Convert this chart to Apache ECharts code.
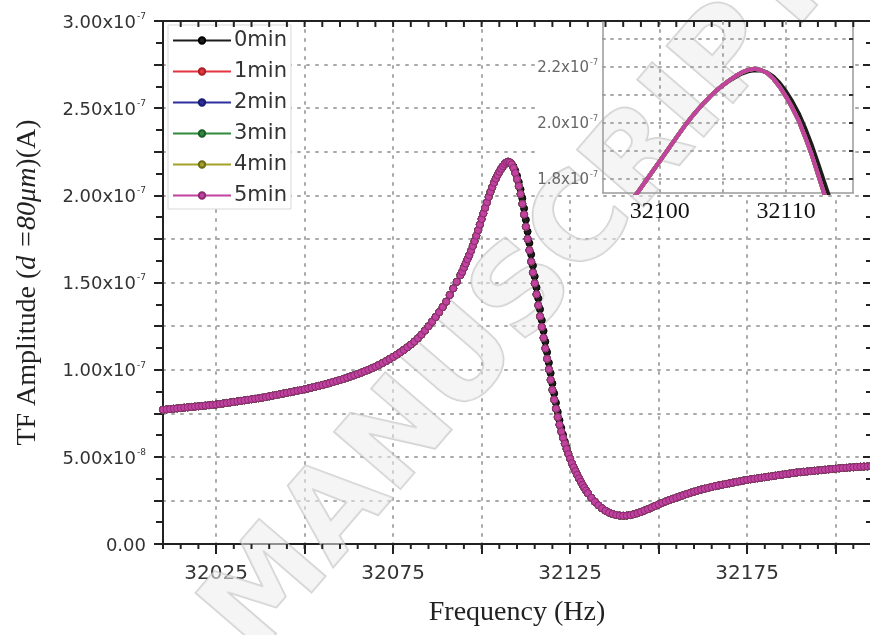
<!DOCTYPE html>
<html>
<head>
<meta charset="utf-8">
<title>TF amplitude vs frequency</title>
<script src="https://cdn.jsdelivr.net/npm/echarts@6/dist/echarts.min.js"></script>
<style>
  html, body { margin: 0; padding: 0; background: #fff; }
  #chart { width: 870px; height: 635px; }
</style>
</head>
<body>
<div id="chart"></div>
<script>
// ---- Frequency sweep data (amplitudes in units of 1e-7 A) ----
// Lower wing: 1 Hz steps from 32010 Hz
const lowSideStartHz = 32010;
const lowSideStepHz = 1;
const ampLowSide = [
  0.770, 0.772, 0.774, 0.776, 0.778, 0.780, 0.782, 0.784, 0.786, 0.788,
  0.790, 0.792, 0.794, 0.796, 0.798, 0.800, 0.803, 0.806, 0.809, 0.812,
  0.815, 0.818, 0.821, 0.824, 0.827, 0.830, 0.833, 0.836, 0.839, 0.843,
  0.847, 0.851, 0.855, 0.859, 0.863, 0.867, 0.871, 0.875, 0.879, 0.883,
  0.887, 0.892, 0.897, 0.902, 0.907, 0.912, 0.917, 0.923, 0.929, 0.935,
  0.941, 0.947, 0.954, 0.961, 0.968, 0.975, 0.983, 0.991, 0.999, 1.008,
  1.017, 1.027, 1.038, 1.049, 1.061, 1.073, 1.086, 1.099, 1.113, 1.128,
  1.144, 1.161, 1.180, 1.201, 1.224, 1.249, 1.275, 1.302, 1.330, 1.359,
  1.390, 1.428, 1.466, 1.504, 1.542
];

// Resonance: 0.5 Hz steps from 32094.5 Hz
const resonanceStartHz = 32094.5;
const resonanceStepHz = 0.5;
const ampResonance = [
  1.561,
  1.585, 1.609, 1.633, 1.657, 1.681, 1.709, 1.737, 1.768, 1.800, 1.832,
  1.864, 1.896, 1.928, 1.960, 1.991, 2.020, 2.047, 2.072, 2.095, 2.116,
  2.135, 2.152, 2.167, 2.180, 2.189, 2.193, 2.189, 2.178, 2.157, 2.128,
  2.093, 2.053, 2.008, 1.951, 1.890, 1.820, 1.750, 1.685, 1.620, 1.557,
  1.495, 1.432, 1.369, 1.306, 1.245, 1.183, 1.122, 1.062, 1.002, 0.942,
  0.884, 0.828, 0.776, 0.728, 0.684, 0.645, 0.609, 0.576, 0.545, 0.516,
  0.489, 0.464, 0.440, 0.418, 0.397, 0.377, 0.358, 0.340, 0.323, 0.307,
  0.292
];
// The 0 min sweep sits slightly lower at the top and a little to the right on the falling edge
const ampResonance0min = [
  1.561,
  1.585, 1.609, 1.633, 1.657, 1.681, 1.709, 1.737, 1.768, 1.800, 1.832,
  1.864, 1.896, 1.928, 1.960, 1.991, 2.020, 2.047, 2.072, 2.095, 2.116,
  2.134, 2.150, 2.164, 2.176, 2.184, 2.188, 2.187, 2.180, 2.165, 2.142,
  2.112, 2.076, 2.034, 1.983, 1.925, 1.860, 1.792, 1.726, 1.661, 1.597,
  1.535, 1.472, 1.409, 1.346, 1.284, 1.222, 1.161, 1.100, 1.040, 0.980,
  0.921, 0.864, 0.810, 0.758, 0.710, 0.666, 0.626, 0.588, 0.552, 0.519,
  0.489, 0.464, 0.440, 0.418, 0.397, 0.377, 0.358, 0.340, 0.323, 0.307,
  0.292
];

// Upper wing: 1 Hz steps from 32131 Hz
const highSideStartHz = 32131;
const highSideStepHz = 1;
const ampHighSide = [
  0.265, 0.242, 0.222, 0.205, 0.191, 0.180, 0.172, 0.166, 0.163, 0.162,
  0.163, 0.166, 0.171, 0.177, 0.184, 0.192, 0.200, 0.209, 0.218, 0.227,
  0.236, 0.244, 0.252, 0.259, 0.266, 0.273, 0.280, 0.287, 0.294, 0.300,
  0.306, 0.312, 0.317, 0.322, 0.327, 0.332, 0.336, 0.340, 0.344, 0.348,
  0.352, 0.356, 0.360, 0.364, 0.368, 0.371, 0.374, 0.377, 0.380, 0.383,
  0.386, 0.389, 0.392, 0.395, 0.398, 0.401, 0.404, 0.407, 0.410, 0.412,
  0.414, 0.416, 0.418, 0.420, 0.422, 0.424, 0.426, 0.428, 0.430, 0.432,
  0.434, 0.436, 0.437, 0.439, 0.440, 0.442, 0.443, 0.444, 0.445, 0.446
];
const ampUnit = 1e-7;

const seriesNames = ['0min', '1min', '2min', '3min', '4min', '5min'];
const seriesColors = ['#1c1c1c', '#e3343f', '#2c2f9c', '#2f8a3c', '#a3a126', '#c2429f'];
const seriesEdges = ['#000000', '#a8202a', '#1a1c70', '#1d5e28', '#6e6c15', '#8a2a72'];

// Axis ticks and labels
const freqMinHz = 32010, freqMaxHz = 32210, minorStepHz = 5;
const ampMin = 0, ampMax = 3e-7;
const mainMajorTicksHz = [32025, 32050, 32075, 32100, 32125, 32150, 32175, 32200];
const mainLabelsHz = [32025, 32075, 32125, 32175];
const insetTicksHz = [32100, 32105, 32110];
const insetLabelsHz = [32100, 32110];
const insetTicksA = [1.8e-7, 1.9e-7, 2.0e-7, 2.1e-7, 2.2e-7, 2.3e-7];
const insetLabelsA = [1.8e-7, 2.0e-7, 2.2e-7];
const minorTicksHz = [];
for (let f = freqMinHz; f <= freqMaxHz; f += minorStepHz) minorTicksHz.push(f);

function toPoints(startHz, stepHz, amps) {
  return amps.map((a, i) => [startHz + i * stepHz, a * ampUnit]);
}
function sweepFor(name) {
  const peak = name === '0min' ? ampResonance0min : ampResonance;
  return toPoints(lowSideStartHz, lowSideStepHz, ampLowSide)
    .concat(toPoints(resonanceStartHz, resonanceStepHz, peak))
    .concat(toPoints(highSideStartHz, highSideStepHz, ampHighSide));
}

// "m.mmx10^e" tick labels with a raised exponent
function sciLabel(v, digits) {
  if (Math.abs(v) < 1e-15) return '{b|' + (0).toFixed(digits) + '}';
  const e = Math.floor(Math.log10(v) + 1e-9);
  const m = v / Math.pow(10, e);
  return '{b|' + m.toFixed(digits) + 'x10}{s|' + e + '}';
}

const axisDark = '#222';
const gridDots = { color: '#a9a9a9', type: [2, 7], width: 2, cap: 'round' };
const plotBox = { left: 163, top: 21, right: -1, bottom: 91, outerBoundsMode: 'none' };

const chart = echarts.init(document.getElementById('chart'), null, { renderer: 'canvas' });

const mainSeries = seriesNames.map((name, i) => ({
  type: 'line',
  name: name,
  xAxisIndex: 0,
  yAxisIndex: 0,
  data: sweepFor(name),
  symbol: 'circle',
  symbolSize: 7,
  showSymbol: true,
  showAllSymbol: true,
  lineStyle: { color: seriesColors[i], width: 2 },
  itemStyle: { color: seriesColors[i], borderColor: seriesEdges[i], borderWidth: 1 },
  emphasis: { disabled: true },
  animation: false,
  z: 2
}));

const insetSeries = seriesNames.map((name, i) => ({
  type: 'line',
  name: name,
  xAxisIndex: 3,
  yAxisIndex: 2,
  data: sweepFor(name),
  showSymbol: false,
  lineStyle: { color: seriesColors[i], width: 4 },
  itemStyle: { color: seriesColors[i] },
  emphasis: { disabled: true },
  animation: false,
  clip: true,
  z: 5
}));

// 5 Hz ticks on the bottom and top frame, placed through the frequency axis
const frameTicks = {
  type: 'custom',
  name: 'frame ticks',
  xAxisIndex: 0,
  yAxisIndex: 0,
  data: minorTicksHz.map(f => [f, ampMin]),
  clip: false,
  silent: true,
  animation: false,
  z: 6,
  renderItem: (params, api) => {
    const f = api.value(0);
    const bottom = api.coord([f, ampMin]);
    const top = api.coord([f, ampMax]);
    return {
      type: 'group',
      children: [
        { type: 'line', shape: { x1: bottom[0], y1: bottom[1], x2: bottom[0], y2: bottom[1] + 5 },
          style: { stroke: axisDark, lineWidth: 2 } },
        { type: 'line', shape: { x1: top[0], y1: top[1], x2: top[0], y2: top[1] + 6 },
          style: { stroke: axisDark, lineWidth: 2 } }
      ]
    };
  }
};

const option = {
  backgroundColor: '#fff',
  animation: false,
  textStyle: { fontFamily: 'DejaVu Sans' },
  grid: [
    Object.assign({}, plotBox),
    { left: 603, top: 22, width: 250, height: 171, outerBoundsMode: 'none' },
    Object.assign({}, plotBox)
  ],
  legend: {
    data: seriesNames,
    orient: 'vertical',
    left: 168,
    top: 25,
    padding: [5, 4, 3, 4],
    itemGap: 10,
    itemWidth: 58,
    itemHeight: 8,
    backgroundColor: '#fff',
    borderColor: '#d8d8d8',
    borderWidth: 1,
    borderRadius: 0,
    textStyle: { fontFamily: 'DejaVu Sans', fontSize: 21, color: '#333', padding: [0, 0, 0, -2] },
    selectedMode: false
  },
  xAxis: [
    { // main frequency axis
      type: 'value', gridIndex: 0, min: freqMinHz, max: freqMaxHz, position: 'bottom',
      axisLine: { show: true, onZero: false, lineStyle: { color: axisDark, width: 2 } },
      axisTick: { show: true, customValues: mainMajorTicksHz, length: 10, lineStyle: { color: axisDark, width: 2 } },
      axisLabel: {
        customValues: mainLabelsHz, formatter: v => String(v),
        fontFamily: 'DejaVu Sans', fontSize: 20, color: '#333', margin: 20
      },
      splitLine: { show: true, lineStyle: gridDots },
      name: 'Frequency (Hz)', nameLocation: 'middle', nameGap: 55,
      nameTextStyle: { fontFamily: 'Liberation Serif', fontSize: 28, color: '#222' }
    },
    { // top frame line
      type: 'value', gridIndex: 2, min: freqMinHz, max: freqMaxHz, position: 'top', z: 2,
      axisLine: { show: true, onZero: false, lineStyle: { color: axisDark, width: 2 } },
      axisTick: { show: false },
      axisLabel: { show: false }, splitLine: { show: false }
    },
    { // spare bottom axis of the frame grid (hidden)
      type: 'value', gridIndex: 2, min: freqMinHz, max: freqMaxHz, position: 'bottom', show: false
    },
    { // inset frequency axis
      type: 'value', gridIndex: 1, min: 32095.5, max: 32115.3, position: 'bottom', z: 3,
      axisLine: { show: true, onZero: false, lineStyle: { color: '#9a9a9a', width: 1.5 } },
      axisTick: { show: false, customValues: insetTicksHz },
      axisLabel: {
        customValues: insetLabelsHz, formatter: v => String(v),
        fontFamily: 'Liberation Serif', fontSize: 24, color: '#111', margin: 7
      },
      splitLine: { show: true, lineStyle: { color: '#a9a9a9', type: [2, 6], width: 2, cap: 'round' } }
    }
  ],
  yAxis: [
    { // main amplitude axis
      type: 'value', gridIndex: 0, min: ampMin, max: ampMax, interval: 2.5e-8, position: 'left',
      axisLine: { show: true, onZero: false, lineStyle: { color: axisDark, width: 2 } },
      axisTick: { show: true, length: 9, lineStyle: { color: axisDark, width: 2 } },
      minorTick: { show: true, splitNumber: 2, length: 7, lineStyle: { color: axisDark, width: 2 } },
      axisLabel: {
        margin: 17,
        formatter: v => (Math.round(v / 2.5e-8) % 2 === 0 ? sciLabel(v, 2) : ''),
        rich: {
          b: { fontFamily: 'DejaVu Sans', fontSize: 18, color: '#333', verticalAlign: 'bottom', lineHeight: 22 },
          s: { fontFamily: 'DejaVu Sans', fontSize: 9, color: '#333', verticalAlign: 'bottom', padding: [0, 0, 11, 1] }
        }
      },
      splitLine: { show: true, lineStyle: gridDots },
      name: 'TF Amplitude ({i|d =80μm})(A)', nameLocation: 'middle', nameGap: 121,
      nameTextStyle: {
        fontFamily: 'Liberation Serif', fontSize: 28, color: '#222',
        rich: { i: { fontFamily: 'Liberation Serif', fontStyle: 'italic', fontSize: 28, color: '#222' } }
      }
    },
    { // right frame
      type: 'value', gridIndex: 2, min: ampMin, max: ampMax, interval: 2.5e-8, position: 'right', z: 2,
      axisLine: { show: true, onZero: false, lineStyle: { color: axisDark, width: 2 } },
      axisTick: { show: true, inside: true, length: 8, lineStyle: { color: axisDark, width: 2 } },
      minorTick: { show: true, splitNumber: 2, length: 5, lineStyle: { color: axisDark, width: 2 } },
      axisLabel: { show: false }, splitLine: { show: false }
    },
    { // inset amplitude axis
      type: 'value', gridIndex: 1, min: 1.75e-7, max: 2.36e-7, position: 'left', z: 3,
      axisLine: { show: true, onZero: false, lineStyle: { color: '#9a9a9a', width: 1.5 } },
      axisTick: { show: false, customValues: insetTicksA },
      axisLabel: {
        customValues: insetLabelsA, margin: 5,
        formatter: v => sciLabel(v, 1),
        rich: {
          b: { fontFamily: 'DejaVu Sans', fontSize: 15, color: '#666', verticalAlign: 'bottom', lineHeight: 18 },
          s: { fontFamily: 'DejaVu Sans', fontSize: 8, color: '#666', verticalAlign: 'bottom', padding: [0, 0, 9, 1] }
        }
      },
      splitLine: { show: true, lineStyle: { color: '#a9a9a9', type: [2, 6], width: 2, cap: 'round' } }
    },
    { // inset right frame
      type: 'value', gridIndex: 1, min: 1.75e-7, max: 2.36e-7, position: 'right', z: 3,
      axisLine: { show: true, onZero: false, lineStyle: { color: '#9a9a9a', width: 1.5 } },
      axisTick: { show: true, inside: true, length: 4, customValues: insetTicksA, lineStyle: { color: '#333', width: 2 } },
      axisLabel: { show: false }, splitLine: { show: false }
    }
  ],
  graphic: [
    { // white panel behind the inset
      type: 'rect', z: 1, silent: true,
      shape: { x: 537, y: 22, width: 317, height: 173 },
      style: { fill: '#fff' }
    },
    { // manuscript watermark
      type: 'text', z: 1, silent: true,
      x: 522, y: 300, rotation: 0.86,
      style: {
        text: 'MANUSCRIPT',
        font: 'bold 120px "DejaVu Sans"',
        fill: 'rgba(236,236,236,0.55)',
        stroke: 'rgba(178,178,178,0.6)',
        lineWidth: 2,
        align: 'center',
        verticalAlign: 'middle'
      }
    }
  ],
  series: mainSeries.concat(insetSeries, [frameTicks])
};

chart.setOption(option);
</script>
</body>
</html>
